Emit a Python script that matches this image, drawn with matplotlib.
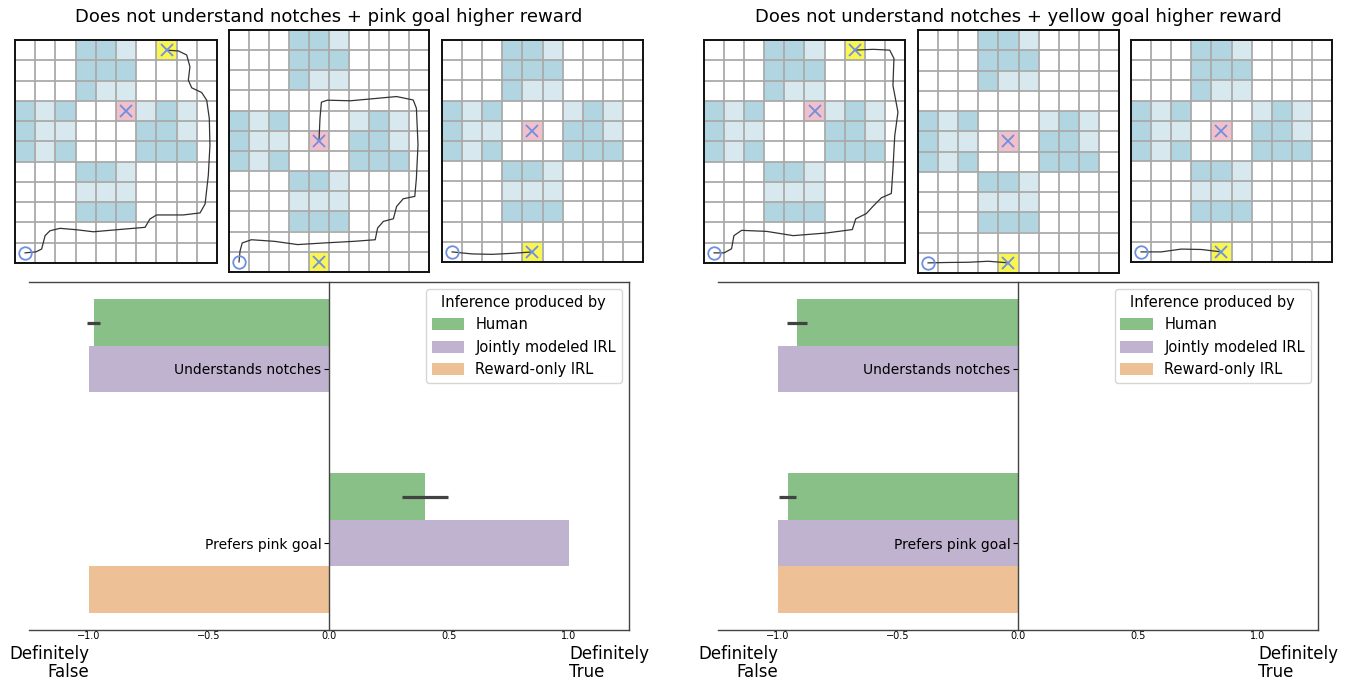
import numpy as np
import matplotlib.pyplot as plt
from matplotlib.colors import ListedColormap
from matplotlib.transforms import blended_transform_factory

# grid layouts: . empty, L light notch, D dark notch, P pink goal, Y yellow goal
grid_far = ["...DDL.Y..",
            "...DDD....",
            "...DLL....",
            "DLD..PLDL.",
            "DLL...DDL.",
            "DLD...DDD.",
            "...DDL....",
            "...LLL....",
            "...DDD....",
            "..........",
            ".........."]
grid_tall = ["...DDL....",
             "...DDD....",
             "...DLL....",
             "..........",
             "DLD...LDL.",
             "DLL.P.DDL.",
             "DLD...DDD.",
             "...DDL....",
             "...LLL....",
             "...DDD....",
             "..........",
             "....Y....."]
grid_near = ["...DDL....",
             "...DDD....",
             "...DLL....",
             "DLD...LDL.",
             "DLL.P.DDL.",
             "DLD...DDD.",
             "...DDL....",
             "...LLL....",
             "...DDD....",
             "..........",
             "....Y....."]

# trajectories, (column, row) in cell units from the top left corner
traj_1 = [(0.5, 10.5), (1.04, 10.45), (1.32, 10.31), (1.49, 9.65), (1.73, 9.41), (2.23, 9.29),
          (3.05, 9.36), (3.88, 9.46), (5.03, 9.36), (6.44, 9.24), (6.68, 8.83), (7.01, 8.63),
          (8.33, 8.63), (9.16, 8.53), (9.41, 8.09), (9.57, 6.68), (9.65, 5.2), (9.62, 3.88),
          (9.49, 2.97), (9.24, 2.59), (8.75, 2.36), (8.58, 1.98), (8.66, 1.32), (8.5, 0.74),
          (8.09, 0.54), (7.5, 0.5)]
traj_2 = [(0.5, 11.5), (0.55, 10.97), (0.66, 10.56), (1.12, 10.4), (2.28, 10.48), (3.43, 10.64),
          (4.75, 10.56), (6.24, 10.48), (7.31, 10.4), (7.43, 9.82), (7.72, 9.49), (8.22, 9.36),
          (8.38, 8.75), (8.71, 8.37), (9.29, 8.25), (9.37, 7.34), (9.45, 5.69), (9.37, 3.88),
          (9.21, 3.47), (8.38, 3.3), (7.06, 3.42), (6.07, 3.51), (4.92, 3.48), (4.62, 3.58),
          (4.55, 4.37), (4.52, 5.03), (4.5, 5.5)]
traj_3 = [(0.5, 10.5), (1.5, 10.6), (2.5, 10.62), (3.5, 10.57), (4.5, 10.5)]
traj_4 = [(0.5, 10.5), (1.0, 10.5), (1.37, 10.3), (1.49, 9.65), (1.87, 9.39), (3.11, 9.44),
          (4.44, 9.65), (6.09, 9.52), (7.38, 9.35), (7.55, 8.82), (8.08, 8.56), (8.41, 8.2),
          (8.83, 7.78), (9.32, 7.57), (9.4, 6.37), (9.49, 4.72), (9.65, 3.56), (9.54, 2.98),
          (9.4, 2.24), (9.45, 0.91), (9.24, 0.5), (8.41, 0.46), (7.5, 0.5)]
traj_5 = [(0.5, 11.5), (1.5, 11.48), (2.5, 11.47), (3.5, 11.42), (4.5, 11.5)]
traj_6 = [(0.5, 10.5), (1.5, 10.5), (2.5, 10.36), (3.5, 10.38), (4.5, 10.5)]

# bar data
attributes = ["Understands notches", "Prefers pink goal"]
models = ["Human", "Jointly modeled IRL", "Reward-only IRL"]
left_human = [-0.98, 0.40]
left_human_err = [0.027, 0.096]
left_joint = [-1.0, 1.0]
left_reward = [np.nan, -1.0]
right_human = [-0.92, -0.96]
right_human_err = [0.042, 0.035]
right_joint = [-1.0, -1.0]
right_reward = [np.nan, -1.0]

titles = ["Does not understand notches + pink goal higher reward",
          "Does not understand notches + yellow goal higher reward"]

bar_colors = ["#88c088", "#bfb3cf", "#eec095"]
cell_cmap = ListedColormap(["#ffffff", "#d7e8ef", "#b1d5e1", "#f1c0cb", "#f9f552"])
code = {".": 0, "L": 1, "D": 2, "P": 3, "Y": 4}

W, H = 1355, 684
fig = plt.figure(figsize=(W / 100, H / 100), dpi=100)


def px_axes(left, top, right, bottom):
    return fig.add_axes([left / W, 1 - bottom / H, (right - left) / W, (bottom - top) / H])


def draw_grid(ax, layout, traj):
    rows = len(layout)
    cells = np.array([[code[c] for c in r] for r in layout])
    ax.imshow(cells, cmap=cell_cmap, vmin=-0.5, vmax=4.5, extent=[0, 10, rows, 0],
              aspect="auto", interpolation="nearest")
    ax.set_xticks(range(11))
    ax.set_yticks(range(rows + 1))
    ax.grid(True, color="#aaaaaa", lw=1.3)
    ax.tick_params(length=0, labelbottom=False, labelleft=False)
    ax.set_xlim(0, 10)
    ax.set_ylim(rows, 0)
    for s in ax.spines.values():
        s.set_linewidth(1.4)
        s.set_color("#111111")
    tx = [p[0] for p in traj]
    ty = [p[1] for p in traj]
    ax.plot(tx, ty, color="#333333", lw=0.9, zorder=3)
    gr, gc = np.where((cells == 3) | (cells == 4))
    ax.plot(gc + 0.5, gr + 0.5, "x", color="#6f8fe0", ms=9, mew=1.3, zorder=4)
    ax.plot(0.5, rows - 0.5, "o", mfc="none", mec="#6f8fe0", ms=9, mew=1.3, zorder=4)


grid_boxes = [(15, 40, 217, 263), (229, 30, 429, 272), (442, 40, 643, 262),
              (704, 40, 905, 263), (918, 30, 1119, 273), (1131, 40, 1332, 262)]
layouts = [grid_far, grid_tall, grid_near, grid_far, grid_tall, grid_near]
trajs = [traj_1, traj_2, traj_3, traj_4, traj_5, traj_6]
for box, lay, tr in zip(grid_boxes, layouts, trajs):
    draw_grid(px_axes(*box), lay, tr)


def draw_bars(ax, human, human_err, joint, reward):
    h = 0.8 / 3
    y = np.arange(len(attributes))
    for j, (vals, name) in enumerate(zip([human, joint, reward], models)):
        ax.barh(y + (j - 1) * h, vals, height=h, color=bar_colors[j], label=name)
    ax.errorbar(human, y - h, xerr=human_err, fmt="none", ecolor="#424242", elinewidth=2.3)
    ax.set_xlim(-1.25, 1.25)
    ax.set_ylim(1.5, -0.5)
    ax.set_yticks(y)
    ax.set_yticklabels(attributes, fontsize=11.5)
    ax.set_xticks([-1.0, -0.5, 0.0, 0.5, 1.0])
    ax.tick_params(axis="x", length=0, pad=1, labelsize=7)
    ax.tick_params(axis="y", length=3.5, pad=2)
    ax.spines["left"].set_position(("data", 0))
    for s in ax.spines.values():
        s.set_color("#444444")
        s.set_linewidth(1.0)
    leg = ax.legend(title="Inference produced by", fontsize=10.5, title_fontsize=10.5,
                    loc="upper right", handlelength=2.2, handleheight=0.9)
    leg.get_frame().set_edgecolor("#cccccc")
    tr = blended_transform_factory(ax.transData, ax.transAxes)
    ax.text(-1.0, -0.042, "Definitely\nFalse", transform=tr, ha="right", va="top",
            multialignment="right", fontsize=12, linespacing=1.05)
    ax.text(1.0, -0.042, "Definitely\nTrue", transform=tr, ha="left", va="top",
            multialignment="left", fontsize=12, linespacing=1.05)


ax_l = px_axes(29, 282, 629, 630)
draw_bars(ax_l, left_human, left_human_err, left_joint, left_reward)
ax_r = px_axes(718, 282, 1318, 630)
draw_bars(ax_r, right_human, right_human_err, right_joint, right_reward)

fig.text(328.5 / W, 1 - 17 / H, titles[0], ha="center", va="center", fontsize=13)
fig.text(1018.5 / W, 1 - 17 / H, titles[1], ha="center", va="center", fontsize=13)

fig.savefig("out.png", dpi=100)
